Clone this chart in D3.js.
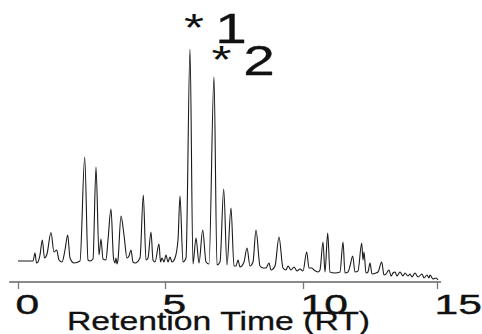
<!DOCTYPE html>
<html><head><meta charset="utf-8">
<script src="https://cdn.jsdelivr.net/npm/d3@7"></script>
<style>body{margin:0;background:#fff;} svg{display:block;}</style>
</head><body>
<svg id="chart" width="482" height="334"></svg>
<script>
const retentionTime = [
 0, 0.408, 0.510, 0.578, 0.629, 0.680, 0.748, 0.827, 0.901, 0.986, 1.122, 1.224, 1.316, 1.395, 1.497, 1.599, 1.690, 1.769, 1.905, 2.109,
 2.269, 2.381, 2.449, 2.551, 2.653, 2.755, 2.823, 2.891, 2.993, 3.061, 3.163, 3.248, 3.299, 3.333, 3.367, 3.401, 3.503, 3.605, 3.707, 3.776,
 3.844, 3.912, 3.980, 4.150, 4.262, 4.354, 4.422, 4.524, 4.592, 4.660, 4.796, 4.847, 4.898, 4.966, 5.036, 5.109, 5.181, 5.254, 5.362, 5.471,
 5.543, 5.652, 5.761, 5.906, 6.014, 6.123, 6.232, 6.366, 6.486, 6.594, 6.775, 6.884, 6.993, 7.127, 7.246, 7.391, 7.500, 7.572, 7.645, 7.717,
 7.862, 7.971, 8.080, 8.188, 8.297, 8.442, 8.551, 8.659, 8.768, 8.841, 8.986, 9.130, 9.275, 9.384, 9.457, 9.565, 9.674, 9.783, 9.891, 10.000,
 10.138, 10.224, 10.325, 10.410, 10.560, 10.634, 10.746, 10.821, 10.922, 11.007, 11.194, 11.381, 11.493, 11.567, 11.679, 11.754, 11.854, 11.940, 12.052, 12.190,
 12.239, 12.276, 12.351, 12.425, 12.500, 12.575, 12.724, 12.799, 12.937, 13.022, 13.097, 13.209, 13.284, 13.358, 13.433, 13.507, 13.619, 13.731, 13.806, 13.918,
 13.993, 14.067, 14.179, 14.291, 14.440, 14.515, 14.627, 14.701, 14.739, 14.851, 14.963, 15.037
];
const intensity = [
 21, 21, 21, 29, 19, 20, 27, 42, 24, 28, 49.5, 30, 32, 22, 20, 32, 47, 24, 19, 21,
 125, 22, 21, 23, 115, 27, 43, 23, 22, 42, 73, 24, 19, 24, 18, 22, 66, 47, 24, 26,
 32, 20, 19, 24, 87, 22, 24, 50, 22, 20, 38, 20, 24, 20, 27, 20, 25, 20, 24, 42,
 86, 20, 24, 233, 18, 44, 19, 52, 20, 18, 205, 17, 20, 93, 17, 74, 16, 16, 22, 15,
 20, 34, 16, 20, 52, 16, 14, 14, 19, 12, 16, 45, 14, 12, 16, 12, 15, 11, 13, 11,
 30, 14, 14, 12, 10, 12, 40, 10, 49, 10, 9, 10, 40, 9, 10, 16, 26, 10, 11, 39,
 22, 30, 9, 10, 19, 8, 9, 10, 20, 7, 8, 12, 6, 9, 10, 6, 10, 6, 9, 6,
 8, 5, 9, 5, 8, 4, 7, 4, 7, 3, 4, 2
];
const xTickValues = [0, 5, 10, 15];
const xTickLabels = ["0", "5", "10", "15"];
const axisTitle = "Retention Time (RT)";
const peakLabels = ["1", "2"];
const peakLabelRT = [5.906, 6.775];
const peakLabelIntensity = [233, 205];

const font = "'Liberation Sans', Arial, Helvetica, sans-serif";
const svg = d3.select("#chart");
const x = d3.scaleLinear().domain(xTickValues).range([18, 165, 303, 437]);
const y = d3.scaleLinear().domain([0, 240]).range([282, 42]);

// axis line
svg.append("line")
  .attr("x1", x(-0.3)).attr("x2", x(15.15))
  .attr("y1", y(0)).attr("y2", y(0))
  .attr("stroke", "#8a8a8a").attr("stroke-width", 2);

const axis = d3.axisBottom(x)
  .tickValues(xTickValues)
  .tickFormat((d, i) => xTickLabels[i])
  .tickSize(7).tickSizeOuter(0);
const gx = svg.append("g").attr("transform", `translate(0,${y(0)})`).call(axis);
gx.select(".domain").remove();
gx.selectAll(".tick line").attr("stroke", "#777").attr("stroke-width", 1.3);
gx.selectAll(".tick text")
  .attr("font-size", 28).attr("font-family", font).attr("fill", "#111")
  .attr("stroke", "#111").attr("stroke-width", 0.4)
  .attr("text-anchor", "start").attr("y", 0).attr("dy", 0)
  .attr("transform", "translate(-3,32) scale(1.52,1)");

svg.append("text")
  .attr("x", 67).attr("y", 330)
  .attr("textLength", 303).attr("lengthAdjust", "spacingAndGlyphs")
  .attr("font-size", 25).attr("font-family", font).attr("fill", "#111")
  .attr("stroke", "#111").attr("stroke-width", 0.3)
  .text(axisTitle);

const line = d3.line()
  .x((d, i) => x(retentionTime[i]))
  .y((d, i) => y(intensity[i]))
  .curve(d3.curveMonotoneX);
svg.append("path")
  .attr("d", line(intensity))
  .attr("fill", "none").attr("stroke", "#1a1a1a").attr("stroke-width", 1.1)
  .attr("stroke-linejoin", "round");

// label offsets relative to the peak apex (layout only)
const starDx = [4, 7.5], digitDx = [41, 45], labelDy = [-6, -2];
peakLabels.forEach((lab, i) => {
  const px = x(peakLabelRT[i]), py = y(peakLabelIntensity[i]);
  svg.append("text")
    .attr("transform", `translate(${px + starDx[i]},${py + labelDy[i] - 2}) scale(1.35,1)`)
    .attr("text-anchor", "middle").attr("font-size", 38).attr("font-family", font).attr("fill", "#111")
    .text("*");
  svg.append("text")
    .attr("transform", `translate(${px + digitDx[i]},${py + labelDy[i]}) scale(1.35,1)`)
    .attr("text-anchor", "middle").attr("font-size", 42).attr("font-family", font).attr("fill", "#111")
    .attr("stroke", "#111").attr("stroke-width", 0.3)
    .text(lab);
});
</script>
</body></html>
